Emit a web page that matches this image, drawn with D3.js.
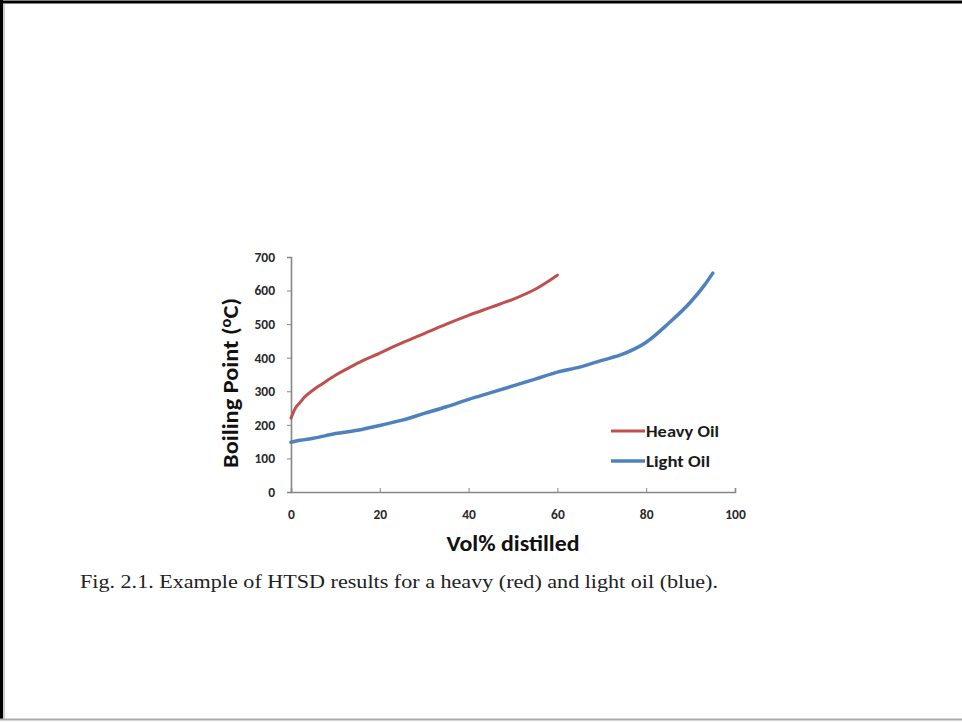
<!DOCTYPE html>
<html>
<head>
<meta charset="utf-8">
<title>HTSD results</title>
<script src="https://d3js.org/d3.v7.min.js"></script>
<style>
  html, body { margin: 0; padding: 0; background: #fff; }
</style>
</head>
<body>
<svg id="chart"></svg>
<script>
// vol% distilled vs boiling point
var heavyX = [0, 1, 2, 3, 5, 7, 10, 12.5, 15, 20, 25, 30, 35, 40, 45, 50, 55, 60];
var heavyY = [220, 250, 266, 282, 304, 322, 348, 366, 384, 414, 444, 472, 500, 526, 550, 574, 604, 646];
var lightX = [0, 2, 5, 10, 15, 20, 25, 30, 35, 40, 45, 50, 55, 60, 65, 70, 75, 80, 85, 90, 93, 95];
var lightY = [148, 154, 160, 174, 184, 198, 214, 234, 254, 276, 296, 316, 336, 357, 372, 392, 412, 446, 502, 566, 614, 652];
var xTicks = [0, 20, 40, 60, 80, 100];
var yTicks = [0, 100, 200, 300, 400, 500, 600, 700];
var seriesNames = ["Heavy Oil", "Light Oil"];
var seriesColors = ["#c0504d", "#4f81bd"];

var W = 962, H = 722;
var svg = d3.select("#chart").attr("width", W).attr("height", H);

// page frame
svg.append("rect").attr("x", 0).attr("y", 0).attr("width", W).attr("height", H).attr("fill", "#fff");
svg.append("line").attr("x1", 0).attr("x2", W).attr("y1", 2).attr("y2", 2).attr("stroke", "#000").attr("stroke-width", 3);
svg.append("line").attr("x1", 1.5).attr("x2", 1.5).attr("y1", 0).attr("y2", 720).attr("stroke", "#000").attr("stroke-width", 3);
svg.append("line").attr("x1", 4).attr("x2", 4).attr("y1", 3).attr("y2", 719).attr("stroke", "#999").attr("stroke-width", 1);
svg.append("line").attr("x1", 0).attr("x2", W).attr("y1", 719.5).attr("y2", 719.5).attr("stroke", "#aaa").attr("stroke-width", 2);

var x = d3.scaleLinear().domain([0, 100]).range([291, 735]);
var y = d3.scaleLinear().domain([0, 700]).range([492, 257]);

var sans = "Calibri, 'Open Sans', 'DejaVu Sans', sans-serif";

// y axis
var gy = svg.append("g").attr("transform", "translate(" + x(0) + ",0)")
  .call(d3.axisLeft(y).tickValues(yTicks).tickSize(4).tickPadding(12));
// x axis
var gx = svg.append("g").attr("transform", "translate(0," + y(0) + ")")
  .call(d3.axisBottom(x).tickValues(xTicks).tickSize(-4).tickPadding(17));

[gx, gy].forEach(function (g) {
  g.select(".domain").attr("stroke", "#868686").attr("stroke-width", 1.6);
  g.selectAll(".tick line").attr("stroke", "#868686").attr("stroke-width", 1);
  g.selectAll(".tick text").attr("fill", "#2a2a2a").attr("font-family", sans)
    .attr("font-size", 13.5).attr("font-weight", "bold");
});

// series lines
var line = d3.line().x(function (d) { return x(d[0]); }).y(function (d) { return y(d[1]); })
  .curve(d3.curveMonotoneX);
var heavy = heavyX.map(function (v, i) { return [v, heavyY[i]]; });
var light = lightX.map(function (v, i) { return [v, lightY[i]]; });

svg.append("path").datum(heavy).attr("d", line).attr("fill", "none")
  .attr("stroke", seriesColors[0]).attr("stroke-width", 3).attr("stroke-linecap", "round");
svg.append("path").datum(light).attr("d", line).attr("fill", "none")
  .attr("stroke", seriesColors[1]).attr("stroke-width", 3.5).attr("stroke-linecap", "round");

// legend
var legend = svg.append("g");
seriesNames.forEach(function (name, i) {
  var ly = 431 + i * 30;
  legend.append("line").attr("x1", 611).attr("x2", 645).attr("y1", ly).attr("y2", ly)
    .attr("stroke", seriesColors[i]).attr("stroke-width", i === 0 ? 3 : 3.5);
  legend.append("text").attr("x", 646).attr("y", ly + 6).attr("font-family", sans)
    .attr("font-size", 16.5).attr("font-weight", "bold").attr("fill", "#1a1a1a")
    .attr("textLength", i === 0 ? 73 : 64).attr("lengthAdjust", "spacingAndGlyphs").text(name);
});

// axis titles
svg.append("text").attr("x", (x(0) + x(100)) / 2).attr("y", 551).attr("text-anchor", "middle")
  .attr("font-family", sans).attr("font-size", 22).attr("font-weight", "bold").attr("fill", "#111")
  .attr("textLength", 133).attr("lengthAdjust", "spacingAndGlyphs")
  .text("Vol% distilled");

var yt = svg.append("text").attr("text-anchor", "middle")
  .attr("transform", "translate(238," + 383 + ") rotate(-90)")
  .attr("font-family", sans).attr("font-size", 22).attr("font-weight", "bold").attr("fill", "#111")
  .attr("textLength", 170).attr("lengthAdjust", "spacingAndGlyphs");
yt.append("tspan").text("Boiling Point (");
yt.append("tspan").attr("dy", -7).attr("font-size", 15).text("o");
yt.append("tspan").attr("dy", 7).text("C)");

// caption
svg.append("text").attr("x", 80).attr("y", 588)
  .attr("font-family", "'Liberation Serif', 'DejaVu Serif', serif").attr("font-size", 19).attr("fill", "#222")
  .attr("textLength", 638).attr("lengthAdjust", "spacingAndGlyphs")
  .text("Fig. 2.1. Example of HTSD results for a heavy (red) and light oil (blue).");
</script>
</body>
</html>
